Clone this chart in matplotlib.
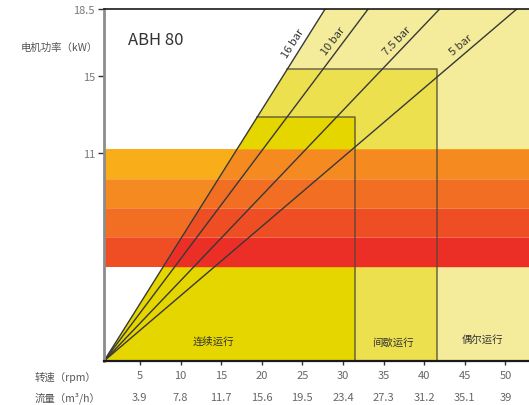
import numpy as np
import matplotlib
matplotlib.use("Agg")
import matplotlib.pyplot as plt
import matplotlib.transforms as mtransforms

plt.rcParams['font.family'] = ['Noto Sans CJK SC', 'DejaVu Sans']

# x axis: pump speed (rpm) and the matching flow (m3/h)
speed_ticks = [5, 10, 15, 20, 25, 30, 35, 40, 45, 50]
flow_labels = ['3.9', '7.8', '11.7', '15.6', '19.5', '23.4', '27.3', '31.2', '35.1', '39']
power_ticks = [11, 15, 18.5]
power_labels = ['11', '15', '18.5']

# pressure lines: speed (rpm) where each line reaches the top (18.5 kW)
pressure_names = ['16 bar', '10 bar', '7.5 bar', '5 bar']
pressure_top_rpm = [27.8, 33.1, 41.9, 51.4]
label_kw = [16.5, 16.6, 16.55, 16.3]

# operating zones: top power (kW) and right limit (rpm)
zone_names = ['连续运行', '间歇运行', '偶尔运行']
zone_top_kw = [12.85, 15.35, 18.5]
zone_right_rpm = [31.5, 41.6, 52.9]
zone_colors = ['#E5D600', '#EDE04E', '#F4EC9A']
zone_text_pos = [(14.05, 1.25), (36.1, 1.15), (47.2, 1.3)]

# motor power bands (kW edges, bottom to top)
band_edges = [5.08, 6.61, 8.14, 9.67, 11.2]
band_out = ['#EF4D24', '#F26E22', '#F58A20', '#F8AD19']
band_in = ['#EB2F26', '#EF4D24', '#F26E22', '#F58A20']

x0, y0 = 0.58, 0.17
xmax, ymax = 52.9, 18.5

fig = plt.figure(figsize=(5.29, 4.06), dpi=100)
ax = fig.add_axes([104 / 529, 44 / 406, 1 - 104 / 529, 352 / 406])
ax.set_xlim(x0, xmax)
ax.set_ylim(y0, ymax)


def x_on_line(kw, top_rpm):
    return x0 + (kw - y0) / (ymax - y0) * (top_rpm - x0)


edge_rpm = pressure_top_rpm[0]

# zones, back to front
for i in reversed(range(3)):
    top = zone_top_kw[i]
    right = zone_right_rpm[i]
    xs = [x0, x_on_line(top, edge_rpm), right, right]
    ys = [y0, top, top, y0]
    ax.fill(xs, ys, color=zone_colors[i], lw=0, zorder=2)

# power bands
for i in range(4):
    lo, hi = band_edges[i], band_edges[i + 1]
    ax.fill_between([x0, xmax], lo, hi, color=band_out[i], lw=0, zorder=3)
    ax.fill_betweenx([lo, hi], [x_on_line(lo, edge_rpm), x_on_line(hi, edge_rpm)],
                     xmax, color=band_in[i], lw=0, zorder=3)
ax.hlines(band_edges[1:4], x0, xmax, color='white', lw=0.6, alpha=0.25, zorder=3.5)

# zone outlines
for i in range(2):
    top = zone_top_kw[i]
    right = zone_right_rpm[i]
    ax.plot([x_on_line(top, edge_rpm), right, right], [top, top, y0],
            color='#4a4735', lw=1.1, alpha=0.8, zorder=4)

for i, name in enumerate(zone_names):
    ax.text(zone_text_pos[i][0], zone_text_pos[i][1], name, ha='center', va='center',
            fontsize=7.5, color='#333333', zorder=6)

# pressure lines and their labels
for name, top_rpm, kw in zip(pressure_names, pressure_top_rpm, label_kw):
    ax.plot([x0, top_rpm], [y0, ymax], color='#383838', lw=1.0, zorder=5)
    p1 = ax.transData.transform((x0, y0))
    p2 = ax.transData.transform((top_rpm, ymax))
    ang = np.arctan2(p2[1] - p1[1], p2[0] - p1[0])
    off = 6.5
    ax.annotate(name, (x_on_line(kw, top_rpm), kw),
                xytext=(-off * np.sin(ang), off * np.cos(ang)), textcoords='offset points',
                rotation=np.degrees(ang), rotation_mode='anchor',
                ha='center', va='center', fontsize=8, color='#333333', zorder=6)

ax.text(0.056, 0.912, 'ABH 80', transform=ax.transAxes, ha='left', va='center',
        fontsize=12, color='#333333')

# axes styling
for side in ['left', 'bottom', 'top', 'right']:
    ax.spines[side].set_zorder(10)
ax.spines['right'].set_visible(False)
ax.spines['left'].set_color('#8c8c8c')
ax.spines['left'].set_linewidth(2)
ax.spines['bottom'].set_color('#1a1a1a')
ax.spines['bottom'].set_linewidth(1.6)
ax.spines['top'].set_color('#1a1a1a')
ax.spines['top'].set_linewidth(1.2)

ax.set_yticks(power_ticks)
ax.set_yticklabels(power_labels)
ax.set_xticks(speed_ticks)
ax.set_xticklabels([str(s) for s in speed_ticks])
ax.tick_params(axis='y', length=4.5, width=1, color='#333333', labelcolor='#777777',
               labelsize=8, pad=2)
ax.tick_params(axis='x', length=3, width=1, color='#333333', labelcolor='#666666',
               labelsize=8, pad=3.5)

trans = mtransforms.blended_transform_factory(ax.transData, ax.transAxes)
for s, f in zip(speed_ticks, flow_labels):
    ax.text(s, -0.101, f, transform=trans, ha='center', va='center',
            fontsize=8, color='#666666')

fig.text(35 / 529, 1 - 378 / 406, '转速（rpm）', ha='left', va='center',
         fontsize=7.5, color='#555555')
fig.text(35 / 529, 1 - 397.7 / 406, '流量（m³/h）', ha='left', va='center',
         fontsize=7.5, color='#555555')
fig.text(20.5 / 529, 1 - 48.3 / 406, '电机功率（kW）', ha='left', va='center',
         fontsize=7.5, color='#555555')

fig.savefig('out.png', dpi=100)
